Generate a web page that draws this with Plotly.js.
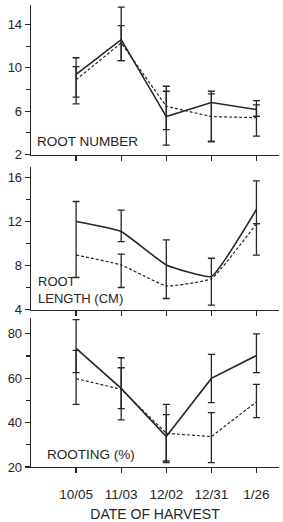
<!DOCTYPE html>
<html><head><meta charset="utf-8">
<script src="https://cdn.plot.ly/plotly-3.0.1.min.js"></script>
<style>html,body{margin:0;padding:0;background:#fff}#chart{width:283px;height:522px}</style>
</head><body><div id="chart"></div>
<script>
// Harvest dates (categories)
const dates = ['10/05', '11/03', '12/02', '12/31', '1/26'];

// Panel 1: root number
const rootNumberSolid = [9.4, 12.6, 5.5, 6.8, 6.15];
const rootNumberSolidUp = [1.53, 3.0, 2.34, 1.04, 0.83];
const rootNumberSolidDown = [2.11, 1.93, 2.64, 3.6, 0.62];
const rootNumberDashed = [8.9, 12.3, 6.45, 5.5, 5.4];
const rootNumberDashedUp = [1.22, 1.6, 1.85, 2.1, 1.18];
const rootNumberDashedDown = [2.22, 1.63, 2.15, 2.3, 1.71];

// Panel 2: root length (cm)
const rootLengthSolid = [12.0, 11.1, 8.05, 7.0, 13.1];
const rootLengthSolidUp = [1.82, 1.93, 2.28, 1.66, 2.6];
const rootLengthSolidDown = [5.09, 0.92, 3.05, 2.61, 1.3];
const rootLengthDashed = [8.95, 8.05, 6.15, 6.8, 11.8];
const rootLengthDashedUp = [NaN, 0.98, NaN, NaN, 0];
const rootLengthDashedDown = [NaN, 2.05, NaN, NaN, 2.86];

// Panel 3: rooting (%)
const rootingSolid = [73.4, 55.4, 33.7, 59.9, 70.2];
const rootingSolidUp = [13.0, 13.8, 14.5, 10.8, 9.8];
const rootingSolidDown = [10.9, 14.2, 11.7, 10.9, 7.7];
const rootingDashed = [59.8, 55.0, 35.2, 33.7, 49.3];
const rootingDashedUp = [12.7, 9.7, 8.4, 10.8, 7.9];
const rootingDashedDown = [11.6, 8.7, 12.5, 11.7, 7.1];

const ink = '#262626';
const fam = 'Liberation Sans, Arial, sans-serif';

function series(y, up, down, dashed, xa, ya, shape) {
  return {
    x: dates, y: y, xaxis: xa, yaxis: ya, type: 'scatter', mode: 'lines',
    line: {color: ink, width: dashed ? 1.2 : 1.6, dash: dashed ? '3px,2px' : 'solid', shape: shape || 'linear', smoothing: 0.35},
    error_y: {type: 'data', symmetric: false, array: up, arrayminus: down, color: ink, thickness: 1.3, width: 3.5},
    showlegend: false, hoverinfo: 'skip'
  };
}

const data = [
  series(rootNumberSolid, rootNumberSolidUp, rootNumberSolidDown, false, 'x', 'y'),
  series(rootNumberDashed, rootNumberDashedUp, rootNumberDashedDown, true, 'x', 'y'),
  series(rootLengthSolid, rootLengthSolidUp, rootLengthSolidDown, false, 'x2', 'y2', 'spline'),
  series(rootLengthDashed, rootLengthDashedUp, rootLengthDashedDown, true, 'x2', 'y2', 'spline'),
  series(rootingSolid, rootingSolidUp, rootingSolidDown, false, 'x3', 'y3'),
  series(rootingDashed, rootingDashedUp, rootingDashedDown, true, 'x3', 'y3')
];

function xax(anchor, labels) {
  return {
    anchor: anchor, type: 'category', range: [-1, 4.5],
    showline: true, linecolor: ink, linewidth: 1.3,
    ticks: 'outside', ticklen: 5, tickwidth: 1.3, tickcolor: ink,
    showticklabels: labels, ticklabelstandoff: 9,
    tickfont: {family: fam, size: 13.5, color: ink},
    showgrid: false, zeroline: false, fixedrange: true
  };
}
function yax(anchor, domain, range, tick0, dtick, minor) {
  return {
    anchor: anchor, domain: domain, range: range,
    tick0: tick0, dtick: dtick,
    showline: true, linecolor: ink, linewidth: 1.3,
    ticks: 'outside', ticklen: 5, tickwidth: 1.3, tickcolor: ink,
    minor: {dtick: minor, ticks: 'outside', ticklen: 4, tickwidth: 1.2, tickcolor: ink},
    tickfont: {family: fam, size: 13, color: ink},
    showgrid: false, zeroline: false, fixedrange: true
  };
}

const xa3 = xax('y3', true);
xa3.title = {text: 'DATE OF HARVEST', font: {family: fam, size: 14, color: ink}, standoff: 8};

const annFont = {family: fam, size: 13.5, color: ink};
const layout = {
  width: 283, height: 522,
  margin: {l: 31, r: 4, t: 5, b: 55},
  paper_bgcolor: '#fff', plot_bgcolor: '#fff',
  font: {family: fam, color: ink},
  xaxis: xax('y', false),
  xaxis2: xax('y2', false),
  xaxis3: xa3,
  yaxis: yax('x', [0.6764, 1], [2, 15.8], 2, 4, 2),
  yaxis2: yax('x2', [0.3409, 0.6504], [4, 17], 4, 4, 2),
  yaxis3: yax('x3', [0, 0.3225], [20, 87.1], 20, 20, 10),
  annotations: [
    {text: 'ROOT NUMBER', xref: 'x domain', yref: 'y domain', x: 0.016, y: 0.086, xanchor: 'left', yanchor: 'middle', showarrow: false, font: annFont},
    {text: 'ROOT<br>LENGTH (CM)', align: 'left', xref: 'x2 domain', yref: 'y2 domain', x: 0.019, y: 0.135, xanchor: 'left', yanchor: 'middle', showarrow: false, font: {family: fam, size: 13, color: ink}},
    {text: 'ROOTING (%)', xref: 'x3 domain', yref: 'y3 domain', x: 0.056, y: 0.087, xanchor: 'left', yanchor: 'middle', showarrow: false, font: annFont}
  ]
};

Plotly.newPlot('chart', data, layout, {displayModeBar: false, staticPlot: true});
</script>
</body></html>
